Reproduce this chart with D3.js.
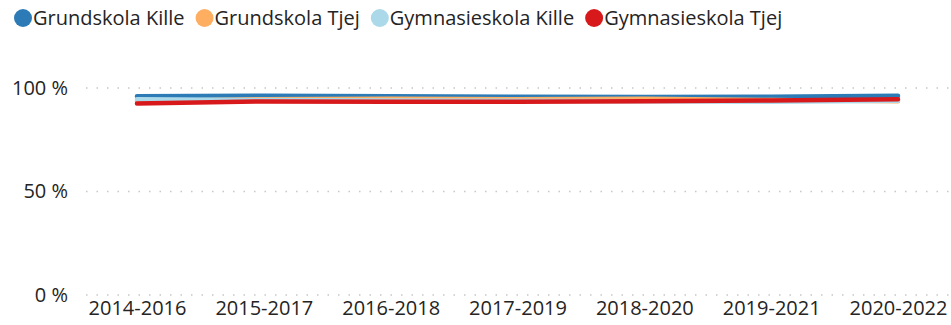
<!DOCTYPE html>
<html>
<head>
<meta charset="utf-8">
<script src="https://cdn.jsdelivr.net/npm/d3@7"></script>
<style>
  html, body { margin: 0; padding: 0; background: #fff; }
  svg { display: block; font-family: "Segoe UI", "Open Sans", sans-serif; }
</style>
</head>
<body>
<svg id="chart" width="951" height="325"></svg>
<script>
// Periods on the x axis
const periods = ["2014-2016", "2015-2017", "2016-2018", "2017-2019", "2018-2020", "2019-2021", "2020-2022"];

// Series names (legend order)
const seriesNames = ["Grundskola Kille", "Grundskola Tjej", "Gymnasieskola Kille", "Gymnasieskola Tjej"];

// Share (%) per period for each series
const grundskolaKille     = [96.0, 96.3, 96.0, 95.8, 95.6, 95.8, 96.2];
const grundskolaTjej      = [93.6, 94.6, 94.8, 94.6, 94.8, 94.2, 93.6];
const gymnasieskolaKille  = [94.6, 94.2, 94.0, 93.8, 93.6, 93.4, 93.8];
const gymnasieskolaTjej   = [92.5, 93.5, 93.4, 93.4, 93.6, 94.0, 94.6];

const yTicks = [0, 50, 100];
const colors = ["#2c7bb6", "#fdae61", "#abd9e9", "#d7191c"];

const seriesValues = [grundskolaKille, grundskolaTjej, gymnasieskolaKille, gymnasieskolaTjej];

const svg = d3.select("#chart");
const fontSize = "20px";

const x = d3.scalePoint().domain(periods).range([137, 898]);
const y = d3.scaleLinear().domain([0, 100]).range([295, 88]);

// Dotted horizontal gridlines
svg.append("g").selectAll("line")
  .data(yTicks)
  .join("line")
  .attr("x1", 86).attr("x2", 951)
  .attr("y1", d => y(d)).attr("y2", d => y(d))
  .attr("stroke", "#c8c8c8")
  .attr("stroke-width", 1.5)
  .attr("stroke-dasharray", "1.5,9");

// Y axis labels
const yAxis = d3.axisLeft(y).tickValues(yTicks).tickFormat(d => d + " %").tickSize(0).tickPadding(0);
svg.append("g")
  .attr("transform", "translate(68,0)")
  .call(yAxis)
  .call(g => g.select(".domain").remove())
  .call(g => g.selectAll("text")
    .attr("fill", "#252423")
    .style("font-size", fontSize)
    .style("font-family", "'Segoe UI', 'Open Sans', sans-serif"));

// X axis labels
const xAxis = d3.axisBottom(x).tickSize(0).tickPadding(0);
svg.append("g")
  .attr("transform", "translate(0,301)")
  .call(xAxis)
  .call(g => g.select(".domain").remove())
  .call(g => g.selectAll("text")
    .attr("fill", "#252423")
    .style("font-size", fontSize)
    .style("font-family", "'Segoe UI', 'Open Sans', sans-serif"));

// Lines
const line = d3.line()
  .x((d, i) => x(periods[i]))
  .y(d => y(d));

svg.append("g").selectAll("path")
  .data(seriesValues)
  .join("path")
  .attr("d", d => line(d))
  .attr("fill", "none")
  .attr("stroke", (d, i) => colors[i])
  .attr("stroke-width", 4.5)
  .attr("stroke-linecap", "round")
  .attr("stroke-linejoin", "round");

// Legend
const legend = svg.append("g").attr("transform", "translate(0,18)");
let lx = 14;
seriesNames.forEach((name, i) => {
  const g = legend.append("g").attr("transform", `translate(${lx},0)`);
  g.append("circle").attr("cx", 9).attr("cy", 0).attr("r", 9).attr("fill", colors[i]);
  const t = g.append("text")
    .attr("x", 19)
    .attr("dy", "0.35em")
    .attr("fill", "#252423")
    .style("font-size", fontSize)
    .text(name);
  lx += 19 + t.node().getComputedTextLength() + 11;
});
</script>
</body>
</html>
